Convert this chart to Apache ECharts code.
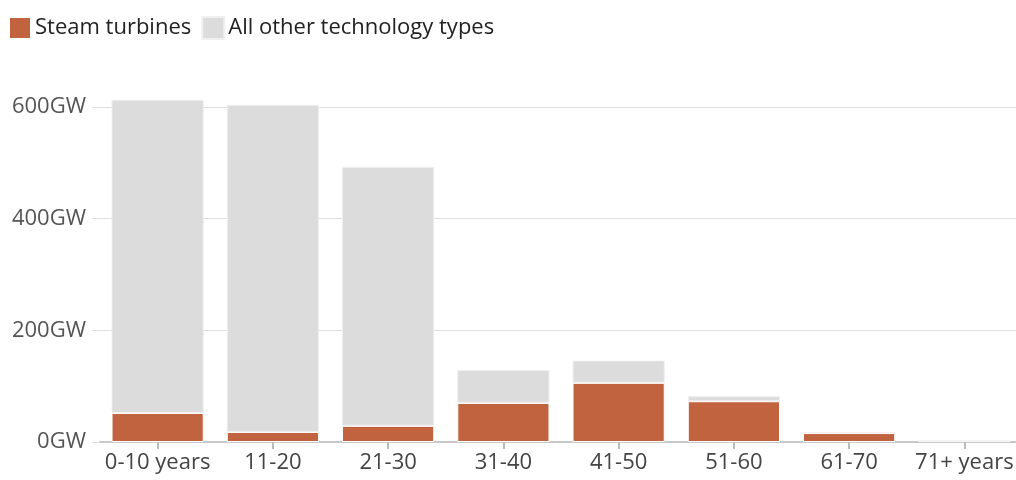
<!DOCTYPE html>
<html>
<head>
<meta charset="utf-8">
<script src="https://cdn.jsdelivr.net/npm/echarts@6/dist/echarts.min.js"></script>
<style>
  html, body { margin: 0; padding: 0; background: #fff; }
  #chart { width: 1016px; height: 480px; }
</style>
</head>
<body>
<div id="chart"></div>
<script>
// plant age buckets
var categories = ['0-10 years', '11-20', '21-30', '31-40', '41-50', '51-60', '61-70', '71+ years'];
// capacity in GW
var steamTurbines = [52, 18, 29, 70, 106, 73, 16, 2];
var otherTypes = [561, 586, 464, 59, 40, 9, 1, 0];
var yTicks = [0, 200, 400, 600];

var myChart = echarts.init(document.getElementById('chart'));

var font = '"Open Sans", sans-serif';

var option = {
  animation: false,
  textStyle: { fontFamily: font },
  legend: {
    left: 3,
    top: 11,
    itemWidth: 22,
    itemHeight: 22,
    itemGap: 10,
    icon: 'rect',
    textStyle: { fontSize: 22, color: '#222', fontFamily: font, padding: [0, 0, 0, -1] },
    data: ['Steam turbines', 'All other technology types']
  },
  grid: {
    left: 100,
    right: -6,
    top: 107,
    bottom: 38,
    outerBoundsMode: 'none'
  },
  xAxis: {
    type: 'category',
    data: categories,
    axisLine: { lineStyle: { color: '#c8c8c8', width: 2 } },
    axisTick: { show: true, alignWithLabel: true, length: 7, lineStyle: { color: '#bbbbbb', width: 2 } },
    axisLabel: { interval: 0, fontSize: 22, color: '#444', margin: 10, fontFamily: font }
  },
  yAxis: {
    type: 'value',
    min: 0,
    max: yTicks[yTicks.length - 1],
    interval: 200,
    axisLine: { show: false },
    axisTick: { show: true, length: 8, lineStyle: { color: '#dddddd' } },
    splitLine: { lineStyle: { color: '#dddddd', width: 1 } },
    axisLabel: {
      fontSize: 22, color: '#555', margin: 14, fontFamily: font,
      formatter: function (v) { return v + 'GW'; }
    }
  },
  series: [
    {
      name: 'Steam turbines',
      type: 'bar',
      stack: 'total',
      clip: false,
      barCategoryGap: '20%',
      itemStyle: { color: '#c2633f', borderColor: '#ffffff', borderWidth: 1 },
      data: steamTurbines
    },
    {
      name: 'All other technology types',
      type: 'bar',
      stack: 'total',
      clip: false,
      itemStyle: { color: '#dcdcdc', borderColor: '#f0f0f0', borderWidth: 1 },
      data: otherTypes
    }
  ]
};

myChart.setOption(option);
</script>
</body>
</html>
